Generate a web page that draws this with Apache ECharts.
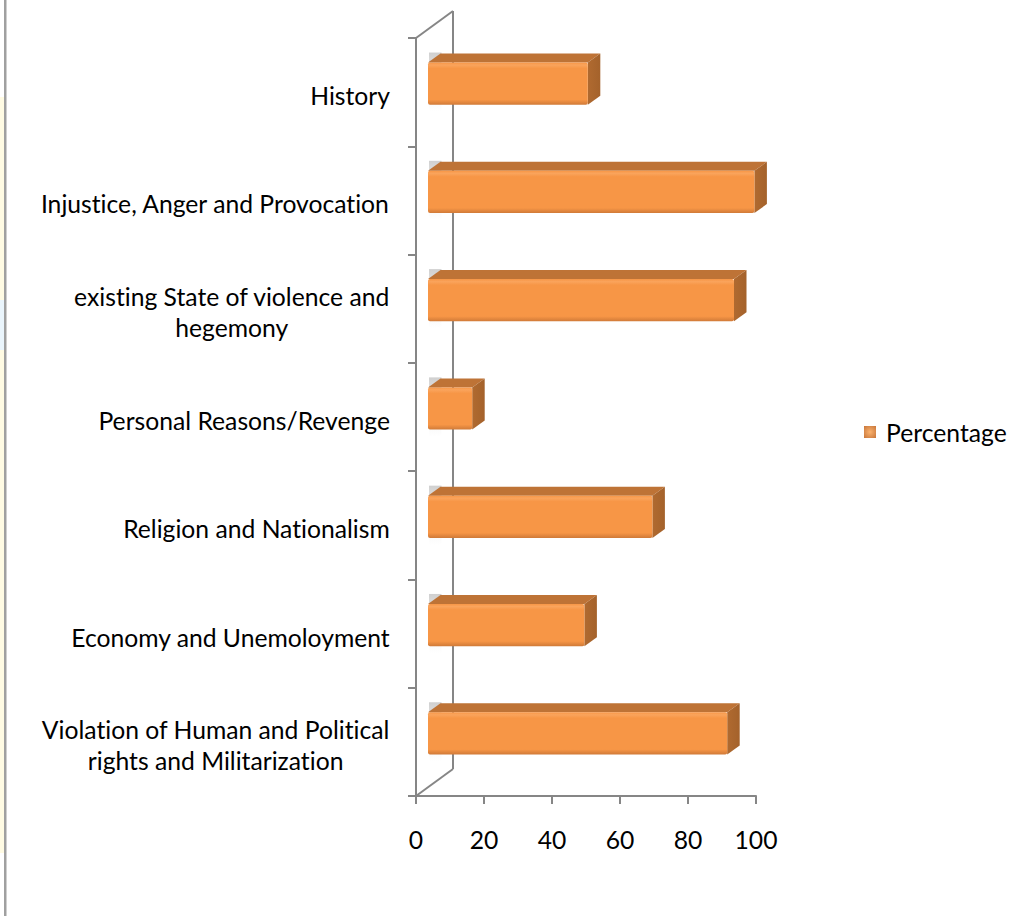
<!DOCTYPE html>
<html><head><meta charset="utf-8">
<script src="https://cdn.jsdelivr.net/npm/echarts@6/dist/echarts.min.js"></script>
<style>html,body{margin:0;padding:0;background:#fff}#c{width:1021px;height:916px}
svg text{font-variant-ligatures:none;font-feature-settings:"liga" 0,"clig" 0;}</style>
</head><body><div id="c"></div>
<script>
// categories listed bottom-to-top (Excel bar chart order)
const categories = [
  'Violation of Human and Political\nrights and Militarization',
  'Economy and Unemoloyment',
  'Religion and Nationalism',
  'Personal Reasons/Revenge',
  'existing State of violence and\nhegemony',
  'Injustice, Anger and Provocation',
  'History'
];
const percentage = [88, 46, 66, 13, 90, 96, 47];
const xTickLabels = ['0', '20', '40', '60', '80', '100'];
const seriesName = 'Percentage';

const FONT = 'Lato';
const mctx = document.createElement('canvas').getContext('2d');
mctx.font = '24px ' + FONT;
const FS = Math.round(24 * 350 / mctx.measureText('Injustice, Anger and Provocation').width * 10) / 10;

const AXIS_COLOR = '#868686';
const TEXT_COLOR = '#000000';
const WALL_DX = 37, WALL_DY = -27;
const FRONT_DX = 12, FRONT_DY = -8.5;
const BAR_DX = 12.5, BAR_DY = -9;

function renderWalls(params, api) {
  const cs = params.coordSys;
  const ls = { stroke: AXIS_COLOR, lineWidth: 2 };
  return { type: 'group', children: [
    { type: 'line', shape: { x1: cs.x + WALL_DX, y1: cs.y + WALL_DY, x2: cs.x + WALL_DX, y2: cs.y + cs.height + WALL_DY }, style: ls },
    { type: 'line', shape: { x1: cs.x, y1: cs.y, x2: cs.x + WALL_DX, y2: cs.y + WALL_DY }, style: ls },
    { type: 'line', shape: { x1: cs.x, y1: cs.y + cs.height, x2: cs.x + WALL_DX, y2: cs.y + cs.height + WALL_DY }, style: ls }
  ]};
}

function renderBar(params, api) {
  const val = api.value(0), cat = api.value(1);
  const p0 = api.coord([0, cat]);
  const p1 = api.coord([val, cat]);
  const band = api.size([0, 1])[1];
  const h = band * 0.39;
  const xL = p0[0] + FRONT_DX, xR = p1[0] + FRONT_DX;
  const yc = p0[1] + FRONT_DY, yT = yc - h / 2, yB = yc + h / 2;
  return { type: 'group', children: [
    { type: 'rect', shape: { x: xL + 1, y: yT + BAR_DY - 1, width: BAR_DX, height: h + 17 },
      style: { fill: new echarts.graphic.LinearGradient(0, 0, 0, 1, [
        { offset: 0, color: 'rgba(150,150,150,0.45)' },
        { offset: 0.5, color: 'rgba(200,200,200,0.3)' },
        { offset: 1, color: 'rgba(200,200,200,0)' }]) } },
    { type: 'polygon', shape: { points: [[xL, yT], [xR, yT], [xR + BAR_DX, yT + BAR_DY], [xL + BAR_DX, yT + BAR_DY]] },
      style: { fill: '#BE7336' } },
    { type: 'polygon', shape: { points: [[xR, yT], [xR + BAR_DX, yT + BAR_DY], [xR + BAR_DX, yB + BAR_DY], [xR, yB]] },
      style: { fill: new echarts.graphic.LinearGradient(0, 0, 1, 0, [
        { offset: 0, color: '#B06A30' }, { offset: 1, color: '#A4622B' }]) } },
    { type: 'rect', shape: { x: xL, y: yT, width: xR - xL, height: h, r: 2 },
      style: { fill: new echarts.graphic.LinearGradient(0, 0, 0, 1, [
        { offset: 0, color: '#F79646' },
        { offset: 0.06, color: '#FAA45C' },
        { offset: 0.14, color: '#F79646' },
        { offset: 0.88, color: '#F79646' },
        { offset: 1, color: '#D07A38' }]) } }
  ]};
}

const chart = echarts.init(document.getElementById('c'), null, { renderer: 'svg' });
chart.setOption({
  backgroundColor: '#ffffff',
  animation: false,
  textStyle: { fontFamily: FONT },
  graphic: [
    { type: 'rect', shape: { x: 0, y: 97, width: 4, height: 756 }, style: { fill: '#FFFBE3' }, z: -1 },
    { type: 'rect', shape: { x: 0, y: 300, width: 4, height: 50 }, style: { fill: '#EAF5FC' }, z: -1 },
    { type: 'rect', shape: { x: 4, y: 0, width: 2.5, height: 916 }, style: { fill: '#A0A0A0' }, z: -1 }
  ],
  grid: { left: 416, right: 265, top: 38, bottom: 120, containLabel: false },
  legend: {
    data: [{ name: seriesName, icon: 'rect', itemStyle: {
      color: new echarts.graphic.RadialGradient(0.5, 0.5, 0.7, [
        { offset: 0, color: '#FBB26E' }, { offset: 1, color: '#C8763A' }]) } }],
    left: 864, top: 419, padding: 0, itemWidth: 12, itemHeight: 12, itemGap: 5,
    textStyle: { fontFamily: FONT, fontSize: FS, color: TEXT_COLOR, lineHeight: 26, padding: [0, 0, 0, 5] }
  },
  xAxis: {
    type: 'value', min: 0, max: 100, interval: 20,
    splitLine: { show: false },
    axisLine: { show: true, lineStyle: { color: AXIS_COLOR, width: 2 } },
    axisTick: { show: true, length: 8, lineStyle: { color: AXIS_COLOR, width: 2 } },
    axisLabel: { margin: 43, verticalAlign: 'middle', fontFamily: FONT, fontSize: FS, color: TEXT_COLOR,
      formatter: (v) => xTickLabels[Math.round(v / 20)] }
  },
  yAxis: {
    type: 'category', data: categories,
    axisLine: { show: true, lineStyle: { color: AXIS_COLOR, width: 2 } },
    axisTick: { show: true, length: 8, lineStyle: { color: AXIS_COLOR, width: 2 } },
    axisLabel: { margin: 26, fontFamily: FONT, fontSize: FS, color: TEXT_COLOR, lineHeight: 31,
      padding: [7, 0, 0, 0],
      formatter: (v) => v.split('\n').map(l => '{c|' + l + '}').join('\n'),
      rich: { c: { align: 'center', fontFamily: FONT, fontSize: FS, color: TEXT_COLOR, lineHeight: 31 } } }
  },
  series: [
    { type: 'custom', name: '_walls', renderItem: renderWalls, data: [[0, 0]], z: 1, silent: true,
      encode: { x: 0, y: 1 } },
    { type: 'custom', name: seriesName, renderItem: renderBar, z: 2,
      itemStyle: { color: '#F79646' },
      encode: { x: 0, y: 1 },
      data: percentage.map((v, i) => [v, i]) }
  ]
});
</script>
</body></html>
